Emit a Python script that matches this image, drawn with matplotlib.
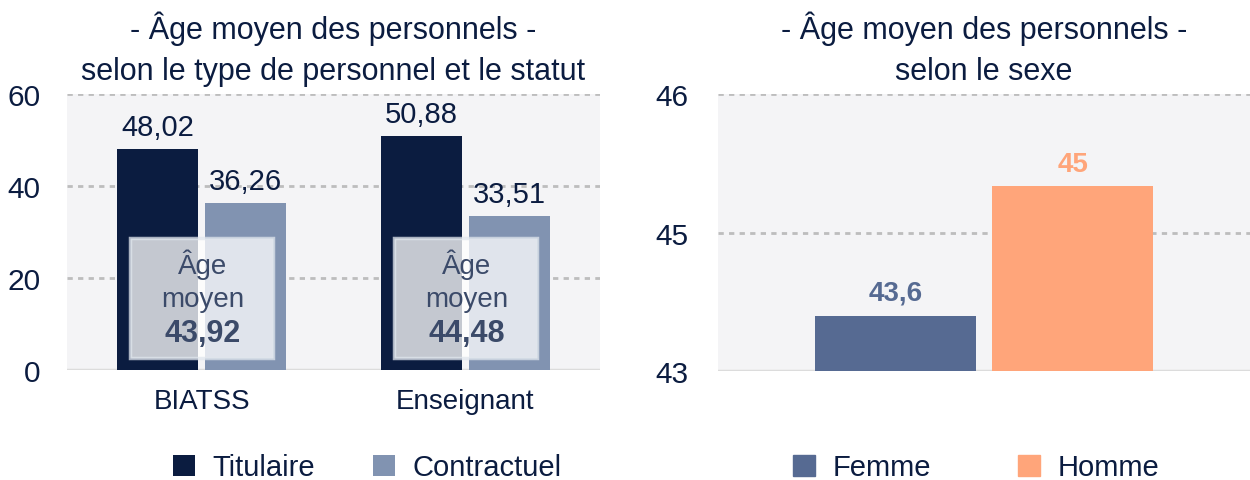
import matplotlib
matplotlib.use("Agg")
import matplotlib.pyplot as plt
from matplotlib.patches import Patch, Rectangle
import numpy as np

# data
types = ["BIATSS", "Enseignant"]
statuts = ["Titulaire", "Contractuel"]
titulaire = [48.02, 50.88]
contractuel = [36.26, 33.51]
age_moyen_type = [43.92, 44.48]

sexes = ["Femme", "Homme"]
age_sexe = [43.6, 45.0]
sexe_ticks = [43, 44.5, 46]
sexe_tick_labels = ["43", "45", "46"]

NAVY = "#0b1c40"
GREYBLUE = "#8193b1"
FEMME = "#566a92"
HOMME = "#ffa57a"
BG = "#f4f4f6"
TEXT = "#0b1c40"
FS = 20

plt.rcParams["font.family"] = ["Liberation Sans", "DejaVu Sans"]


def fmt(v):
    s = f"{v:.2f}".rstrip("0").rstrip(".")
    return s.replace(".", ",")


def style_axes(ax, yticks, ylabels, ypad):
    ax.set_facecolor(BG)
    for s in ax.spines.values():
        s.set_visible(False)
    ax.set_yticks(yticks)
    ax.set_yticklabels(ylabels)
    ax.tick_params(axis="both", length=0, labelsize=FS, colors=TEXT)
    ax.tick_params(axis="y", pad=ypad, labelsize=FS + 1.5)
    ax.tick_params(axis="x", pad=13)
    for t in yticks[1:]:
        ax.axhline(t, color="#bdbdbd", lw=2, ls=(0, (1.9, 1.9)), zorder=1)
    ax.axhline(yticks[0], color="#dcdcdc", lw=2.5, zorder=1)


fig = plt.figure(figsize=(12.5, 4.81), dpi=100)
ax1 = fig.add_axes([0.0536, 0.2287, 0.4264, 0.5738])
ax2 = fig.add_axes([0.5744, 0.2266, 0.4256, 0.5759])

# left chart
x = np.arange(len(types))
w = 0.307
off = 0.1667
b1 = ax1.bar(x - off, titulaire, w, color=NAVY, zorder=2, label=statuts[0])
b2 = ax1.bar(x + off, contractuel, w, color=GREYBLUE, zorder=2, label=statuts[1])
for bars, vals in [(b1, titulaire), (b2, contractuel)]:
    for r, v in zip(bars, vals):
        ax1.annotate(fmt(v), (r.get_x() + r.get_width() / 2, v), xytext=(0, 6),
                     textcoords="offset points", ha="center", va="bottom",
                     fontsize=FS + 1, color=TEXT)
ax1.set_xlim(-0.51, 1.51)
ax1.set_ylim(0, 60)
style_axes(ax1, [0, 20, 40, 60], ["0", "20", "40", "60"], 19)
ax1.set_xticks(x)
ax1.set_xticklabels(types)
ax1.set_title("- Âge moyen des personnels -\nselon le type de personnel et le statut",
              fontsize=22, color=TEXT, pad=11, linespacing=1.45)

# average boxes
for xi, v in zip(x, age_moyen_type):
    box = Rectangle((xi - 0.27, 2.6), 0.54, 26.0,
                    facecolor=(1, 1, 1, 0.76), edgecolor=(0.88, 0.9, 0.93, 0.75),
                    lw=2.5, zorder=3)
    ax1.add_patch(box)
    ax1.text(xi + 0.005, 23.2, "Âge", ha="center", va="center", fontsize=FS,
             color="#3b4a69", zorder=4)
    ax1.text(xi + 0.005, 15.4, "moyen", ha="center", va="center", fontsize=FS,
             color="#3b4a69", zorder=4)
    ax1.text(xi + 0.005, 8.0, fmt(v), ha="center", va="center", fontsize=22,
             fontweight="bold", color="#3b4a69", zorder=4)

ax1.legend(loc="center", bbox_to_anchor=(0.294, 0.026), bbox_transform=fig.transFigure,
           ncol=2, frameon=False, fontsize=FS + 1, handlelength=0.75, handleheight=0.75,
           handletextpad=0.6, columnspacing=2.0, labelcolor=TEXT)

# right chart
x2 = np.arange(len(sexes))
colors2 = [FEMME, HOMME]
bars2 = ax2.bar(x2, [v - 43 for v in age_sexe], 0.91, bottom=43, color=colors2, zorder=2)
for r, v, c in zip(bars2, age_sexe, colors2):
    ax2.annotate(fmt(v), (r.get_x() + r.get_width() / 2, v), xytext=(0, 7),
                 textcoords="offset points", ha="center", va="bottom",
                 fontsize=FS, fontweight="bold", color=c)
ax2.set_xlim(-1.0, 2.0)
ax2.set_ylim(43, 46)
style_axes(ax2, sexe_ticks, sexe_tick_labels, 21)
ax2.set_xticks([])
ax2.set_title("- Âge moyen des personnels -\nselon le sexe",
              fontsize=22, color=TEXT, pad=11, linespacing=1.45)
handles = [Patch(color=c, label=s) for c, s in zip(colors2, sexes)]
ax2.legend(handles=handles, loc="center", bbox_to_anchor=(0.781, 0.026),
           bbox_transform=fig.transFigure, ncol=2, frameon=False, fontsize=FS + 1,
           handlelength=0.75, handleheight=0.75, handletextpad=0.6,
           columnspacing=3.0, labelcolor=TEXT)

fig.savefig("out.png", dpi=100)
